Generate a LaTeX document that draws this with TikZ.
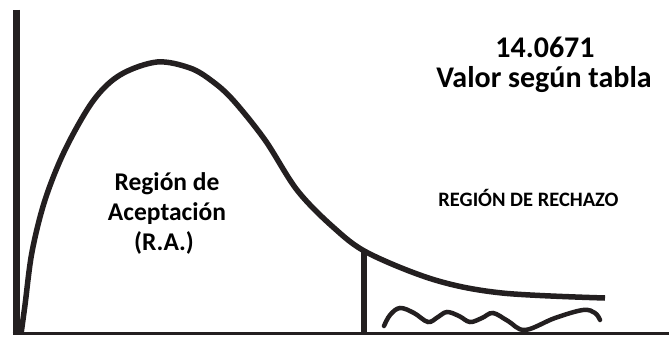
\documentclass[tikz,border=0pt]{standalone}
\usepackage{fontspec}
\setmainfont{Carlito}
\definecolor{ink}{RGB}{35,31,32}
\begin{document}
\begin{tikzpicture}[x=1pt,y=-1pt,
  axisline/.style={draw=ink,line width=#1},
  lbl/.style={anchor=base,inner sep=0pt,text=black,font=\bfseries\fontsize{#1}{#1}\selectfont}]
\useasboundingbox (0,0) rectangle (669,337);
% axes
\coordinate (ytop) at (16,10);
\coordinate (origin) at (16,335);
\coordinate (xend) at (669,333.5);
\coordinate (xstart) at (12.5,333.5);
\draw[axisline=7pt] (ytop) -- (origin);
\draw[axisline=3pt] (xstart) -- (xend);
% density curve
\draw[ink,line width=5.5pt,line cap=butt,line join=round] plot[smooth,tension=0.55] coordinates {
  (21,334) (25,305) (32,252) (45,200) (65,150) (93,101) (120,75) (157,62)
  (190,68) (212,81) (233,100) (265,140) (297,190) (333,227) (368,253)
  (435,280) (502,293) (605,298)};
% critical value line
\coordinate (crittop) at (364,252);
\coordinate (critbot) at (364,333);
\draw[axisline=6.5pt] (crittop) -- (critbot);
% wavy rejection mark
\draw[ink,line width=4.5pt,line cap=round] plot[smooth,tension=0.6] coordinates {
  (384,326) (390,315) (400,308) (414,313) (428,322) (438,317) (447,312)
  (459,316) (470,322) (482,318) (493,313) (508,321) (525,330) (555,318)
  (583,310) (595,313) (600,320)};
\draw[ink,line width=2pt] (383,327) -- (387,322);
% labels
\node[lbl=30] (val) at (545,57) {14.0671};
\node[lbl=30] (tab) at (544,87) {Valor según tabla};
\node[lbl=25.5] (ra1) at (167,190) {Región de};
\node[lbl=25.5] (ra2) at (167,220) {Aceptación};
\node[lbl=25.5] (ra3) at (164,250) {(R.A.)};
\node[lbl=20.5] (rr) at (528.5,206) {REGIÓN DE RECHAZO};
\end{tikzpicture}
\end{document}
